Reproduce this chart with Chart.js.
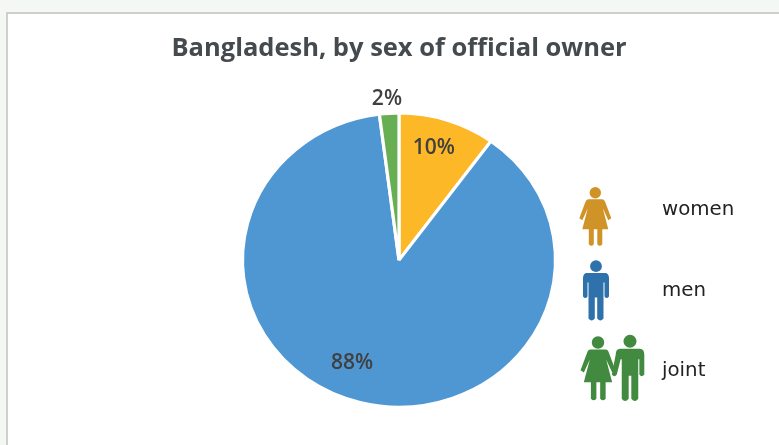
<!DOCTYPE html>
<html>
<head>
<meta charset="utf-8">
<script src="https://cdn.jsdelivr.net/npm/chart.js@4"></script>
<style>
  html, body { margin: 0; padding: 0; background: #f3f8f5; }
  #frame { position: absolute; left: 0; top: 0; width: 779px; height: 445px; overflow: hidden; }
  #panel { position: absolute; left: 6px; top: 12px; width: 800px; height: 460px; background: #fff; border: 2px solid #cdd0cd; box-sizing: border-box; }
  canvas { position: absolute; left: 0; top: 0; }
</style>
</head>
<body>
<div id="frame">
  <div id="panel"></div>
  <canvas id="chart" width="779" height="445"></canvas>
</div>
<script>
const chartTitle = 'Bangladesh, by sex of official owner';
const categories = ['women', 'men', 'joint'];
const shares = [10, 88, 2];
const sliceColors = ['#fdb827', '#4f97d3', '#68ae52'];
const iconColors = ['#cf9327', '#2f72ab', '#428a3f'];

// Pictogram outlines, in pixels around a figure's centre line and head top.
function woman(ctx, x, y, color, size = 1) {
  ctx.save();
  ctx.translate(x, y);
  ctx.scale(size, size);
  ctx.fillStyle = color;
  ctx.beginPath();
  ctx.arc(0, 5.5, 5.7, 0, Math.PI * 2);
  ctx.fill();
  ctx.beginPath();
  ctx.moveTo(-7, 12);
  ctx.lineTo(7, 12);
  ctx.quadraticCurveTo(9, 12, 10, 15);
  ctx.lineTo(16, 31);
  ctx.lineTo(13, 33);
  ctx.lineTo(7.5, 21);
  ctx.lineTo(13, 42);
  ctx.lineTo(7, 42);
  ctx.lineTo(7, 57);
  ctx.quadraticCurveTo(4.5, 60, 2, 57);
  ctx.lineTo(2, 42);
  ctx.lineTo(-1.5, 42);
  ctx.lineTo(-1.5, 57);
  ctx.quadraticCurveTo(-4, 60, -6.5, 57);
  ctx.lineTo(-6.5, 42);
  ctx.lineTo(-13, 42);
  ctx.lineTo(-7.5, 21);
  ctx.lineTo(-13, 33);
  ctx.lineTo(-16, 31);
  ctx.lineTo(-10, 15);
  ctx.quadraticCurveTo(-9, 12, -7, 12);
  ctx.closePath();
  ctx.fill();
  ctx.restore();
}

// handShift moves the figure's left hand outward so it can hold a neighbour's.
function man(ctx, x, y, color, size = 1, handShift = 0) {
  ctx.save();
  ctx.translate(x, y);
  ctx.scale(size, size);
  ctx.fillStyle = color;
  ctx.beginPath();
  ctx.arc(0, 5.7, 5.9, 0, Math.PI * 2);
  ctx.fill();
  ctx.beginPath();
  ctx.moveTo(-9, 12.5);
  ctx.lineTo(9, 12.5);
  ctx.quadraticCurveTo(13, 12.5, 13, 18);
  ctx.lineTo(13, 36);
  ctx.quadraticCurveTo(10.5, 39, 8.5, 36);
  ctx.lineTo(8.5, 22);
  ctx.lineTo(7.5, 22);
  ctx.lineTo(7.5, 58);
  ctx.quadraticCurveTo(4.5, 62, 1.2, 58);
  ctx.lineTo(1.2, 37);
  ctx.lineTo(-1.2, 37);
  ctx.lineTo(-1.2, 58);
  ctx.quadraticCurveTo(-4.5, 62, -7.5, 58);
  ctx.lineTo(-7.5, 22);
  ctx.lineTo(-8.5, 22);
  ctx.lineTo(-8.5 - handShift, 36);
  ctx.quadraticCurveTo(-10.5 - handShift, 39, -13 - handShift, 36);
  ctx.lineTo(-13, 18);
  ctx.quadraticCurveTo(-13, 12.5, -9, 12.5);
  ctx.closePath();
  ctx.fill();
  ctx.restore();
}

// The pie is slightly wider than it is tall: stretch it about its centre.
const widenPie = {
  id: 'widenPie',
  beforeDatasetsDraw(chart) {
    const { ctx } = chart;
    const arc = chart.getDatasetMeta(0).data[0];
    ctx.save();
    ctx.translate(arc.x, arc.y);
    ctx.scale(1.065, 1);
    ctx.translate(-arc.x, -arc.y);
  },
  afterDatasetsDraw(chart) {
    chart.ctx.restore();
  }
};

// Draws the percentage on each slice; the smallest one sits outside the pie.
const sliceLabels = {
  id: 'sliceLabels',
  afterDatasetsDraw(chart) {
    const { ctx } = chart;
    const reach = [0.79, 0.71, 1.09];
    const nudgeX = [-1, -21, -2];
    const nudgeY = [-1.5, 2, -1];
    ctx.save();
    ctx.font = '600 21px "Open Sans"';
    ctx.fillStyle = '#404040';
    ctx.textAlign = 'center';
    ctx.textBaseline = 'middle';
    chart.getDatasetMeta(0).data.forEach((arc, i) => {
      const mid = (arc.startAngle + arc.endAngle) / 2;
      const r = reach[i] * arc.outerRadius;
      ctx.fillText(shares[i] + '%',
        arc.x + Math.cos(mid) * r + nudgeX[i],
        arc.y + Math.sin(mid) * r + nudgeY[i]);
    });
    ctx.restore();
  }
};

// Pictogram key to the right of the pie.
const pictogramKey = {
  id: 'pictogramKey',
  afterDraw(chart) {
    const { ctx } = chart;
    const rows = [
      { text: 210, draw: () => woman(ctx, 595.3, 187.3, iconColors[0]) },
      { text: 291, draw: () => man(ctx, 596, 260.5, iconColors[1]) },
      { text: 371, draw: () => {
        woman(ctx, 598, 336.5, iconColors[2], 1.09);
        man(ctx, 630, 335, iconColors[2], 1.1, 3.5);
      } }
    ];
    ctx.save();
    rows.forEach((row, i) => {
      row.draw();
      ctx.font = '19.8px "DejaVu Sans"';
      ctx.fillStyle = '#222';
      ctx.textBaseline = 'middle';
      ctx.fillText(categories[i], 662, row.text);
    });
    ctx.restore();
  }
};

new Chart(document.getElementById('chart'), {
  type: 'pie',
  data: {
    labels: categories,
    datasets: [{
      data: shares,
      backgroundColor: sliceColors,
      borderColor: '#ffffff',
      borderWidth: 3,
      borderAlign: 'center'
    }]
  },
  plugins: [widenPie, sliceLabels, pictogramKey],
  options: {
    responsive: false,
    animation: false,
    layout: { padding: { left: 20, right: 1, top: 0, bottom: 36.5 } },
    plugins: {
      legend: { display: false },
      tooltip: { enabled: false },
      title: {
        display: true,
        text: chartTitle,
        color: '#444a4d',
        font: { family: '"Open Sans"', size: 25.5, weight: '700' },
        padding: { top: 33, bottom: 48 }
      }
    }
  }
});
</script>
</body>
</html>
